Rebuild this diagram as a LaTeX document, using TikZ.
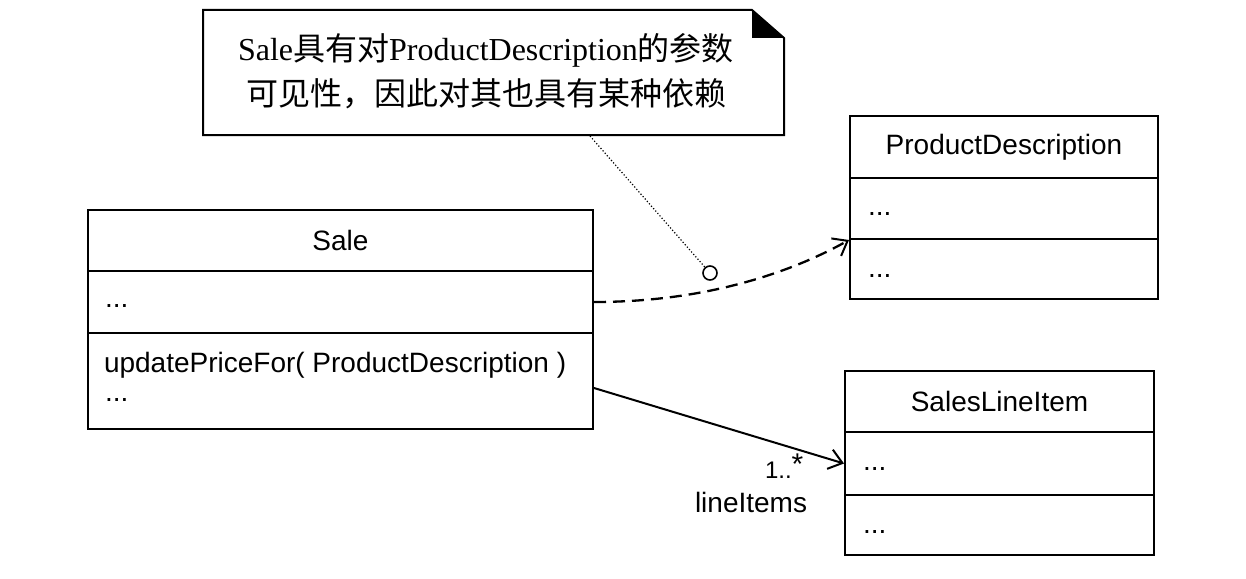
\documentclass[tikz,border=0pt]{standalone}
\usepackage{fontspec}
\setmainfont{Liberation Serif}
\newfontfamily\cjk{Noto Sans CJK SC}
\newfontfamily\lsans{Liberation Sans}
\usetikzlibrary{arrows.meta,calc}
\begin{document}
\begin{tikzpicture}[x=1pt,y=-1pt,line width=2pt,
  box/.style={draw,rectangle,inner sep=0pt,anchor=north west},
  lbl/.style={font=\lsans\fontsize{28}{30}\selectfont},
  txt/.style={font=\lsans\fontsize{28}{30}\selectfont,inner sep=0pt,anchor=base west},
  small/.style={font=\lsans\fontsize{24}{26}\selectfont,inner sep=0pt,anchor=base west},
  notetxt/.style={font=\fontsize{32}{45}\selectfont,align=center,inner sep=0pt},
  open/.style={-{Straight Barb[length=13pt,width=20pt,line width=2pt]}}]
\useasboundingbox[fill=white] (0,0) rectangle (1246,578);

% note
\node[notetxt] (note) at (486,71) {Sale{\cjk 具有对}ProductDescription{\cjk 的参数}\\{\cjk 可见性，因此对其也具有某种依赖}};
\coordinate (nTL) at (203,10);
\coordinate (nF1) at (752,10);
\coordinate (nF2) at (752,38);
\coordinate (nF3) at (784,38);
\coordinate (nBR) at (784,135);
\coordinate (nBL) at (203,135);
\draw (nTL) -- (nF1) -- (nF3) -- (nBR) -- (nBL) -- cycle;
\fill (nF1) -- (nF2) -- (nF3) -- cycle;
\coordinate (nAnchor) at (590,136);
\node[draw,circle,minimum size=14pt,inner sep=0pt,line width=1.6pt] (dep) at (710,273) {};
\draw[line width=1.2pt,dotted] (nAnchor) -- (dep);

% Sale
\node[box,lbl,minimum width=505pt,minimum height=61pt] (saleN) at (87,209) {Sale};
\node[box,minimum width=505pt,minimum height=62pt] (saleA) at (87,270) {};
\node[box,minimum width=505pt,minimum height=96pt] (saleO) at (87,332) {};
\node[txt] (saleA1) at (104,307) {...};
\node[txt] (saleO1) at (103,372) {updatePriceFor( ProductDescription )};
\node[txt] (saleO2) at (104,401) {...};

% ProductDescription
\node[box,lbl,minimum width=308pt,minimum height=62pt] (pdN) at (849,115) {ProductDescription};
\node[box,minimum width=308pt,minimum height=61pt] (pdA) at (849,177) {};
\node[box,minimum width=308pt,minimum height=60pt] (pdO) at (849,238) {};
\node[txt] (pdA1) at (867,215) {...};
\node[txt] (pdO1) at (867,277) {...};

% SalesLineItem
\node[box,lbl,minimum width=309pt,minimum height=61pt] (sliN) at (844,370) {SalesLineItem};
\node[box,minimum width=309pt,minimum height=63pt] (sliA) at (844,431) {};
\node[box,minimum width=309pt,minimum height=60pt] (sliO) at (844,494) {};
\node[txt] (sliA1) at (862,470) {...};
\node[txt] (sliO1) at (862,533) {...};

% dependency (dashed)
\coordinate (dStart) at (saleA.east);
\draw[open,dash pattern=on 12pt off 7pt,line width=2.3pt]
  (dStart) .. controls ($(dStart)+(120,0)$) and ($(pdA.south west)+(-50,28)$) .. (pdA.south west);

% association
\coordinate (aStart) at ($(saleO.east)+(0,7)$);
\draw[open] (aStart) -- (sliA.west);
\node[small] (mult) at (764,478) {1..\raisebox{4pt}{\fontsize{30}{30}\selectfont *}};
\node[txt] (role) at (694,512) {lineItems};
\end{tikzpicture}
\end{document}
